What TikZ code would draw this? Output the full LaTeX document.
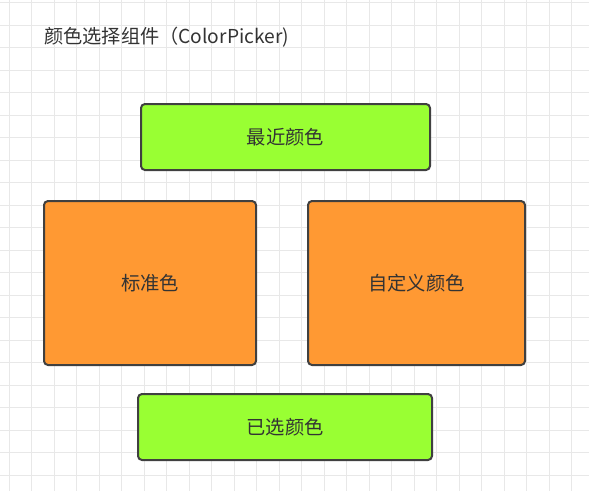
\documentclass[tikz,border=0pt]{standalone}
\usepackage{fontspec}
\setmainfont{Noto Sans CJK SC}
\usetikzlibrary{positioning}
\definecolor{pickgreen}{HTML}{99FF33}
\definecolor{pickorange}{HTML}{FF9933}
\definecolor{edgegray}{HTML}{404040}
\definecolor{textgray}{HTML}{333333}
\definecolor{gridgray}{HTML}{E8E8E8}
\tikzset{panel/.style={draw=edgegray,line width=2pt,rounded corners=4pt,inner sep=0pt,text=textgray,font=\fontsize{19.3}{22}\selectfont} }
\tikzset{gridline/.style={gridgray,line width=1pt} }

\begin{document}
\begin{tikzpicture}[x=1pt,y=-1pt]
    \useasboundingbox[fill=white] (0,0) rectangle (589,491);
    \foreach \i in {0,...,25} \draw[gridline] (9+22.5*\i,0) -- (9+22.5*\i,491);
    \foreach \j in {0,...,21} \draw[gridline] (0,2.5+22.5*\j) -- (589,2.5+22.5*\j);
    \node[anchor=west,text=textgray,inner sep=0pt,font=\fontsize{19.2}{22}\selectfont] (title) at (44,37.5) {颜色选择组件（ColorPicker)};
    \node[panel,fill=pickgreen,minimum width=289pt,minimum height=66pt] (recent) at (285.5,137) {最近颜色};
    \node[panel,fill=pickorange,minimum width=212pt,minimum height=164pt] (standard) at (150,283) {标准色};
    \node[panel,fill=pickorange,minimum width=217pt,minimum height=164pt] (custom) at (416.5,283) {自定义颜色};
    \node[panel,fill=pickgreen,minimum width=294pt,minimum height=66pt] (chosen) at (285,427) {已选颜色};
\end{tikzpicture}
\end{document}
